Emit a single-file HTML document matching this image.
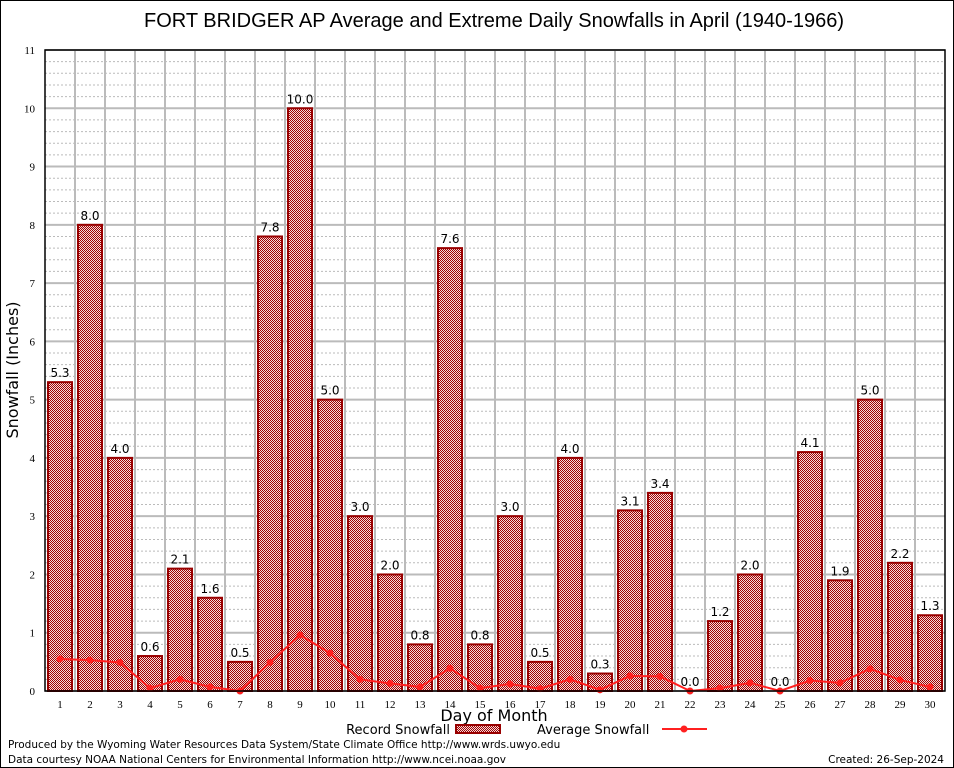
<!DOCTYPE html>
<html><head><meta charset="utf-8"><style>
body{margin:0;background:#fff;}
svg{display:block;font-family:"DejaVu Sans","Liberation Sans",sans-serif;}
</style></head><body>
<svg id="chart" width="954" height="768">
<defs>
<pattern id="chk" width="2" height="2" patternUnits="userSpaceOnUse">
<rect width="2" height="2" fill="#f4dcdc"/><rect width="1" height="1" fill="#a00000"/><rect x="1" y="1" width="1" height="1" fill="#a00000"/>
</pattern>
</defs>
<rect x="0.5" y="0.5" width="953" height="767" fill="#fff" stroke="#000"/>
<text x="494" y="27" font-size="20" text-anchor="middle" font-family="Liberation Sans, sans-serif">FORT BRIDGER AP Average and Extreme Daily Snowfalls in April (1940-1966)</text>
<g id="grid"></g>
<g id="bars"></g>
<g id="avg"></g>
<g id="axes"></g>
<text x="18" y="370" font-size="16" text-anchor="middle" transform="rotate(-90 18 370)">Snowfall (Inches)</text>
<text x="494" y="721" font-size="16" text-anchor="middle">Day of Month</text>
<g>
<text x="450" y="734" font-size="13" text-anchor="end">Record Snowfall</text>
<rect x="456" y="725" width="44" height="8" fill="url(#chk)" stroke="#990000" stroke-width="2"/>
</g>
<g>
<text x="537" y="734" font-size="13">Average Snowfall</text>
<line x1="662" y1="729" x2="707" y2="729" stroke="#ff2020" stroke-width="2"/>
<circle cx="684" cy="729" r="3.5" fill="#ff2020"/>
</g>
<text x="8" y="748" font-size="10.5">Produced by the Wyoming Water Resources Data System/State Climate Office http://www.wrds.uwyo.edu</text>
<text x="8" y="763" font-size="10.5">Data courtesy NOAA National Centers for Environmental Information http://www.ncei.noaa.gov</text>
<text x="944" y="763" font-size="10.5" text-anchor="end">Created: 26-Sep-2024</text>
</svg>
<script>
const days=[1,2,3,4,5,6,7,8,9,10,11,12,13,14,15,16,17,18,19,20,21,22,23,24,25,26,27,28,29,30];
const recordSnow=[5.3,8.0,4.0,0.6,2.1,1.6,0.5,7.8,10.0,5.0,3.0,2.0,0.8,7.6,0.8,3.0,0.5,4.0,0.3,3.1,3.4,0.0,1.2,2.0,0.0,4.1,1.9,5.0,2.2,1.3];
const avgSnow=[0.55,0.53,0.49,0.05,0.2,0.07,0.0,0.49,0.96,0.65,0.2,0.13,0.07,0.39,0.05,0.12,0.04,0.2,0.02,0.26,0.25,0.0,0.05,0.14,0.0,0.18,0.14,0.38,0.19,0.07];
const yTicks=[0,1,2,3,4,5,6,7,8,9,10,11];
const NS='http://www.w3.org/2000/svg';
const L=45,R=945,T=50,B=691,YMAX=11;
const xs=d=>L+(d-0.5)*(R-L)/30;
const ys=v=>B-v*(B-T)/YMAX;
function mk(tag,attrs,parent){const e=document.createElementNS(NS,tag);for(const k in attrs)e.setAttribute(k,attrs[k]);parent.appendChild(e);return e;}
const grid=document.getElementById('grid');
for(let i=0;i<YMAX*5;i++){if(i%5===0)continue;const y=ys(i/5);
const ln=mk('line',{x1:L,x2:R,y1:y,y2:y,stroke:'#bbb','stroke-dasharray':'2,2'},grid);

}
yTicks.forEach(t=>{const y=ys(t);
const ln=mk('line',{x1:L,x2:R,y1:y,y2:y,stroke:'#bbb','stroke-width':2},grid);


const tx=mk('text',{x:L-10,y:y+4,'font-size':11,'text-anchor':'end','font-family':'Liberation Serif, serif'},grid);tx.textContent=t;

});
days.forEach(d=>{const x=xs(d)+15;
if(d<30){const ln=mk('line',{x1:x,x2:x,y1:T,y2:B,stroke:'#bbb','stroke-width':2},grid);

}
const tx=mk('text',{x:xs(d),y:B+17,'font-size':11,'text-anchor':'middle','font-family':'Liberation Serif, serif'},grid);tx.textContent=d;

});
const bars=document.getElementById('bars');
days.forEach((d,i)=>{const v=recordSnow[i];const x=xs(d)-12;
if(v>0){const r=mk('rect',{x:x,y:ys(v),width:24,height:B-ys(v),fill:'url(#chk)',stroke:'#990000','stroke-width':2},bars);

}
const t=mk('text',{x:xs(d),y:ys(v)-5,'font-size':12,'text-anchor':'middle'},bars);t.textContent=v.toFixed(1);

});
const avg=document.getElementById('avg');
const pl=mk('polyline',{points:days.map((d,i)=>xs(d)+','+ys(avgSnow[i])).join(' '),fill:'none',stroke:'#ff2020','stroke-width':2},avg);


days.forEach((d,i)=>{const c=mk('circle',{cx:xs(d),cy:ys(avgSnow[i]),r:3.5,fill:'#ff2020'},avg);

});
const axes=document.getElementById('axes');
const fr=mk('rect',{x:L,y:T,width:R-L,height:B-T,fill:'none',stroke:'#000','stroke-width':1.5},axes);


</script>
</body></html>
